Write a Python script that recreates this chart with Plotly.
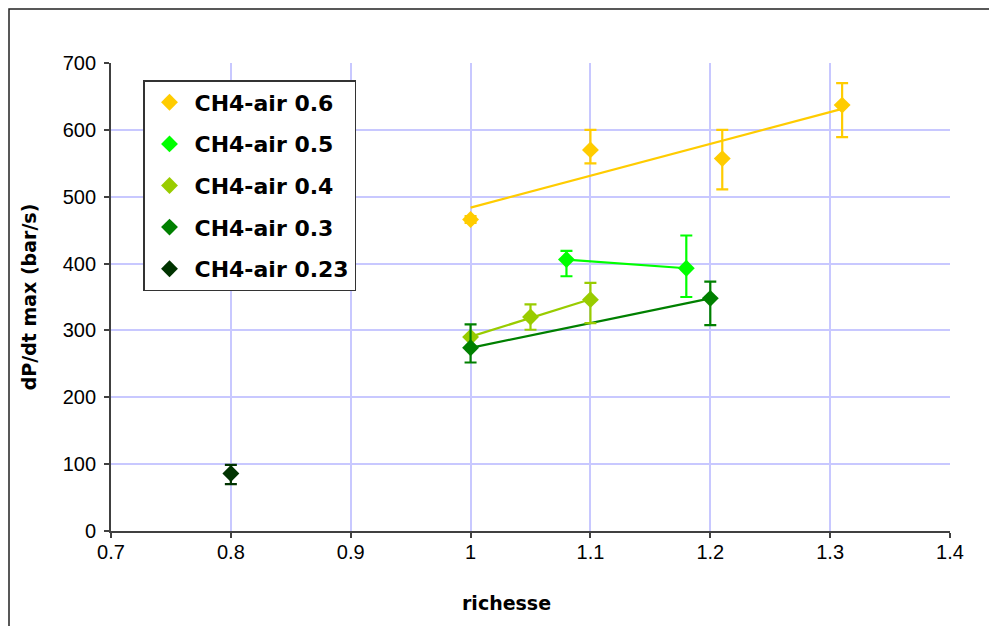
import numpy as np
import plotly.graph_objects as go

# ---- data ----
series_names = ["CH4-air 0.6", "CH4-air 0.5", "CH4-air 0.4", "CH4-air 0.3", "CH4-air 0.23"]
series_colors = ["#FFCC00", "#00FF00", "#99CC00", "#008000", "#003300"]

x_06 = [1.00, 1.10, 1.21, 1.31]
y_06 = [466, 570, 557, 637]
ep_06 = [5, 30, 43, 33]
em_06 = [5, 20, 46, 48]

x_05 = [1.08, 1.18]
y_05 = [406, 393]
ep_05 = [13, 49]
em_05 = [25, 43]

x_04 = [1.00, 1.05, 1.10]
y_04 = [290, 320, 346]
ep_04 = [0, 19, 25]
em_04 = [0, 19, 35]

x_03 = [1.00, 1.20]
y_03 = [274, 348]
ep_03 = [35, 25]
em_03 = [22, 40]

x_023 = [0.80]
y_023 = [86]
ep_023 = [13]
em_023 = [16]

x_ticks = [0.7, 0.8, 0.9, 1.0, 1.1, 1.2, 1.3, 1.4]
x_tick_text = ["0.7", "0.8", "0.9", "1", "1.1", "1.2", "1.3", "1.4"]
y_ticks = [0, 100, 200, 300, 400, 500, 600, 700]
x_grid = [0.8, 0.9, 1.0, 1.1, 1.2, 1.3]
y_grid = [100, 200, 300, 400, 500, 600]

series = [
    (x_06, y_06, ep_06, em_06),
    (x_05, y_05, ep_05, em_05),
    (x_04, y_04, ep_04, em_04),
    (x_03, y_03, ep_03, em_03),
    (x_023, y_023, ep_023, em_023),
]

FONT = "Arial, Liberation Sans, sans-serif"
BFONT = "DejaVu Sans, Arial, sans-serif"
W, H = 989, 618
L, R, T, B = 103, 47, 55, 95
PW, PH = W - L - R, H - T - B

fig = go.Figure()

# grid-only base axes (dummy trace)
fig.add_trace(go.Scatter(x=[0.7], y=[0], mode="markers", marker=dict(opacity=0),
                         hoverinfo="skip", showlegend=False, xaxis="x", yaxis="y"))

# trend lines (linear fit, as in the spreadsheet)
for (xs, ys, _, _), col in zip(series, series_colors):
    if len(xs) < 2:
        continue
    k, b = np.polyfit(xs, ys, 1)
    xl = [min(xs), max(xs)]
    fig.add_trace(go.Scatter(x=xl, y=[k * v + b for v in xl], mode="lines",
                             line=dict(color=col, width=2.2), hoverinfo="skip",
                             showlegend=False, xaxis="x2", yaxis="y2"))

# markers with error bars
for i, ((xs, ys, ep, em), name, col) in enumerate(zip(series, series_names, series_colors)):
    fig.add_trace(go.Scatter(
        x=xs, y=ys, mode="markers", name=name, legendgroup=f"g{i}",
        marker=dict(symbol="diamond", size=13, color=col),
        error_y=dict(type="data", array=ep, arrayminus=em, symmetric=False,
                     color=col, thickness=2.2, width=6),
        xaxis="x2", yaxis="y2"))

fig.update_layout(
    width=W, height=H,
    margin=dict(l=L, r=R, t=T, b=B),
    paper_bgcolor="white", plot_bgcolor="white",
    font=dict(family=FONT, color="black"),
    showlegend=True,
    xaxis=dict(range=[0.7, 1.4], tickmode="array", tickvals=x_grid, showticklabels=False,
               ticks="", showgrid=True, gridcolor="#C8C8FF", gridwidth=1.5,
               zeroline=False, showline=False),
    yaxis=dict(range=[0, 700], tickmode="array", tickvals=y_grid, showticklabels=False,
               ticks="", showgrid=True, gridcolor="#C8C8FF", gridwidth=1.5,
               zeroline=False, showline=False),
    xaxis2=dict(range=[0.7, 1.4], overlaying="x", anchor="y2", side="bottom",
                tickmode="array", tickvals=x_ticks, ticktext=x_tick_text,
                ticks="outside", ticklen=5, tickwidth=1.6, tickcolor="#404040",
                showgrid=False, zeroline=False, showline=True, linecolor="#404040",
                linewidth=1.8, tickfont=dict(family=FONT, size=20, color="black"),
                ticklabelstandoff=-3),
    yaxis2=dict(range=[0, 700], overlaying="y", anchor="x2", side="left",
                tickmode="array", tickvals=y_ticks,
                ticks="outside", ticklen=5, tickwidth=1.6, tickcolor="#404040",
                showgrid=False, zeroline=False, showline=True, linecolor="#404040",
                linewidth=1.8, tickfont=dict(family=FONT, size=20, color="black"),
                ticklabelstandoff=4,
                title=dict(text="dP/dt max (bar/s)", font=dict(family=BFONT, size=19, color="black", weight="bold"),
                           standoff=21)),
    legend=dict(x=(135 - L) / PW, y=1 - (72 - T) / PH, xanchor="left", yanchor="top",
                bgcolor="white", bordercolor="#333333", borderwidth=1.5,
                font=dict(family=BFONT, size=22, color="black", weight="bold"),
                tracegroupgap=10, itemwidth=40, entrywidth=200, entrywidthmode="pixels"),
)

# x-axis title (placed like the original, slightly left of the plot centre)
fig.add_annotation(text="richesse", xref="paper", yref="paper",
                   x=(498 - L) / PW, y=-(595 - T - PH) / PH,
                   xanchor="center", yanchor="middle", showarrow=False,
                   font=dict(family=BFONT, size=19, color="black", weight="bold"))

# outer chart border (left and top edges visible)
fig.add_shape(type="rect", xref="paper", yref="paper",
              x0=(1 - L) / PW, x1=(W + 20 - L) / PW,
              y0=-(B + 20) / PH, y1=1 + (T - 1) / PH,
              line=dict(color="#222222", width=1.5), fillcolor="rgba(0,0,0,0)", layer="below")

fig.write_html("out.html")
